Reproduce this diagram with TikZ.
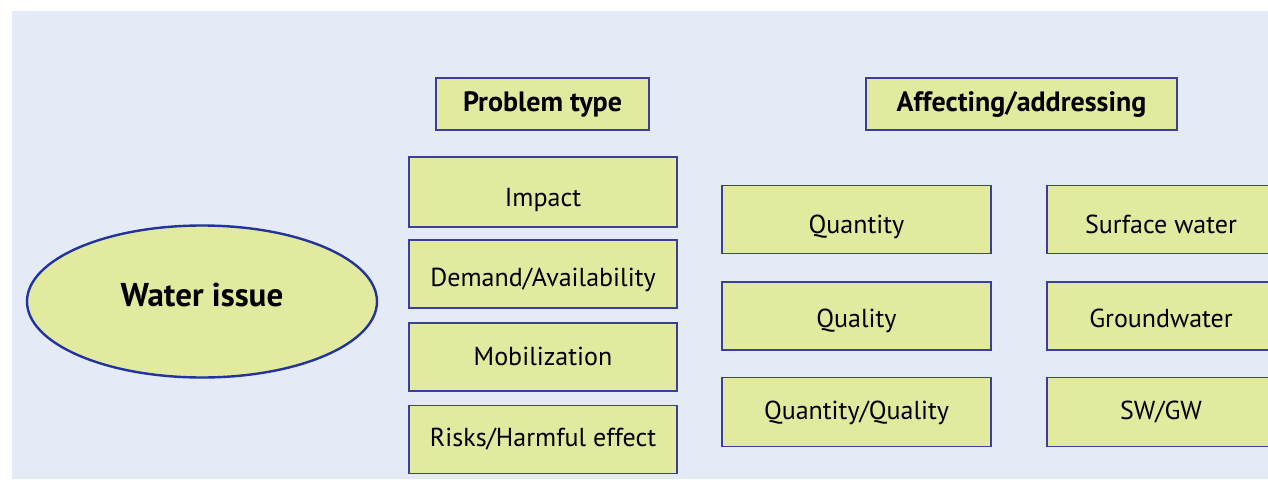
\documentclass[tikz,border=0pt]{standalone}
\usepackage{fontspec}
\setmainfont{PT Sans}
\usetikzlibrary{shapes.geometric}
\definecolor{bgblue}{HTML}{E4EAF6}
\definecolor{boxfill}{HTML}{E1EA9E}
\definecolor{boxline}{HTML}{3A3F9E}
\definecolor{ellline}{HTML}{2233A0}
\newcommand{\txtdown}[2]{\raisebox{-#1pt}{#2}}
\tikzset{
  box/.style={draw=boxline, line width=1.6pt, fill=boxfill, rectangle, inner sep=0pt,
    font=\fontsize{26}{30}\selectfont, text height=19pt, text depth=0pt},
  headbox/.style={draw=boxline, line width=1.6pt, fill=boxfill, rectangle, inner sep=0pt,
    font=\fontsize{28}{32}\selectfont\bfseries},
}
\begin{document}
\begin{tikzpicture}[x=1pt,y=-1pt]
\useasboundingbox (0,0) rectangle (1268,479);
\fill[white] (0,0) rectangle (1268,479);
\fill[bgblue] (12,11) rectangle (1268,479);
\clip (0,0) rectangle (1268,479);
\node[ellipse, draw=ellline, line width=2.4pt, fill=boxfill, minimum width=350pt, minimum height=152pt,
  font=\fontsize{33}{37}\selectfont\bfseries, text height=24pt, text depth=14pt] (water) at (202,301.5) {Water issue};
\node[headbox, minimum width=213pt, minimum height=52pt] (ptype) at (542.5,104) {Problem type};
\node[headbox, minimum width=311pt, minimum height=52pt] (affect) at (1021.5,104) {Affecting/addressing};
\node[box, minimum width=268pt, minimum height=70pt] (impact) at (543,192) {\txtdown{4.5}{Impact}};
\node[box, minimum width=268pt, minimum height=68pt] (demand) at (543,274) {\txtdown{2.5}{Demand/Availability}};
\node[box, minimum width=268pt, minimum height=68pt] (mobil) at (543,357) {\txtdown{-1.5}{Mobilization}};
\node[box, minimum width=268pt, minimum height=68pt] (risks) at (543,439.5) {\txtdown{-3}{Risks/Harmful effect}};
\node[box, minimum width=269pt, minimum height=68pt] (qty) at (856.5,219.5) {\txtdown{4.5}{Quantity}};
\node[box, minimum width=269pt, minimum height=68pt] (qual) at (856.5,316) {\txtdown{1.5}{Quality}};
\node[box, minimum width=269pt, minimum height=69pt] (qq) at (856.5,412) {\txtdown{-2}{Quantity/Quality}};
\node[box, minimum width=228pt, minimum height=68pt] (sw) at (1161,219.5) {\txtdown{4.5}{Surface water}};
\node[box, minimum width=228pt, minimum height=68pt] (gw) at (1161,316) {\txtdown{1.5}{Groundwater}};
\node[box, minimum width=228pt, minimum height=69pt] (swgw) at (1161,412) {\txtdown{-2}{SW/GW}};
\end{tikzpicture}
\end{document}
